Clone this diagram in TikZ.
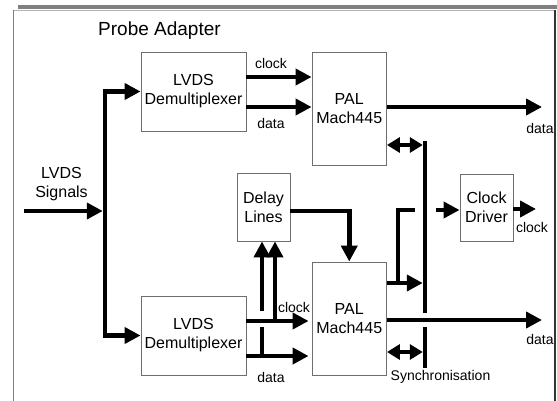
\documentclass[tikz,border=0pt]{standalone}
\usepackage{fontspec}
\setmainfont{Liberation Sans}
\usetikzlibrary{arrows.meta, calc}
\definecolor{frame}{RGB}{128,128,128}
\definecolor{edge}{RGB}{110,110,110}

\begin{document}
\begin{tikzpicture}[
  x=1pt, y=-1pt,
  every node/.style={font=\fontsize{16}{19}\selectfont},
  blockbox/.style={draw=edge, line width=0.9pt, align=center, inner sep=0pt},
  lbl/.style={font=\fontsize{14}{16}\selectfont},
  bus/.style={line width=4.5pt},
  syncarrow/.style={bus, {Triangle[length=13pt,width=15pt]}-{Triangle[length=13pt,width=15pt]}},
  >={Triangle[length=16pt,width=16pt]}
]
\useasboundingbox (0,0) rectangle (557,401);

% frame
\fill[frame] (18,5) rectangle (557,9.5);
\draw[frame!60, line width=0.8pt] (13.5,10) -- (555,10);
\draw[frame, line width=1.5pt] (13.5,10) -- (13.5,401);
\draw[black!80, line width=1.5pt] (555,10) -- (555,401);

\node[font=\fontsize{19}{22}\selectfont] (title) at (159.5,31) {Probe Adapter};
\node[align=center] (signals) at (61.5,184) {LVDS\\Signals};

\node[blockbox, minimum width=105pt, minimum height=79pt] (demuxA) at (193.5,91.5)
  {LVDS\\Demultiplexer};
\node[blockbox, minimum width=74.5pt, minimum height=113pt] (palA) at (349.25,108.5)
  {PAL\\Mach445};
\node[blockbox, minimum width=105pt, minimum height=79pt] (demuxB) at (193.5,335.5)
  {LVDS\\Demultiplexer};
\node[blockbox, minimum width=74.5pt, minimum height=113pt] (palB) at (349.25,318.5)
  {PAL\\Mach445};
\node[blockbox, minimum width=53pt, minimum height=68pt] (delay) at (263.5,207)
  {Delay\\Lines};
\node[blockbox, minimum width=53pt, minimum height=67pt] (clkdrv) at (486.5,207.5)
  {Clock\\Driver};

% input and split
\coordinate (sigin) at (24,211);
\coordinate (split) at (105,211);
\draw[bus, ->, shorten >=2.25pt] (sigin) -- (split);
\draw[bus, ->] (split) |- (demuxA);
\draw[bus, ->] (split) |- (demuxB);

% upper channel
\coordinate (clkA) at ([yshift=14.5pt]demuxA.east);
\coordinate (datA) at ([yshift=-15.5pt]demuxA.east);
\coordinate (outA) at (542,107);
\draw[bus, ->] (clkA) -- (clkA -| palA.west);
\draw[bus, ->] (datA) -- (datA -| palA.west);
\draw[bus, ->] (outA -| palA.east) -- (outA);
\node[lbl] (clkAlbl) at (271,63) {clock};
\node[lbl] (datAlbl) at (271,123) {data};
\node[lbl] (outAlbl) at (540,128) {data};

% lower channel
\coordinate (clkB) at ([yshift=14.5pt]demuxB.east);
\coordinate (datB) at ([yshift=-20.5pt]demuxB.east);
\coordinate (outB) at (542,320);
\draw[bus, ->, shorten >=3pt] (clkB) -- (clkB -| palB.west);
\draw[bus, ->, shorten >=3pt] (datB) -- (datB -| palB.west);
\draw[bus, ->] (outB -| palB.east) -- (outB);
\node[lbl] (clkBlbl) at (294,307) {clock};
\node[lbl] (datBlbl) at (271,377) {data};
\node[lbl] (outBlbl) at (540,339) {data};

% taps to the delay lines
\coordinate (tapD) at (262,356);
\coordinate (hopLo) at (262,327);
\coordinate (hopHi) at (262,311);
\coordinate (tapC) at (275,321);
\draw[bus] (tapD) -- (hopLo);
\draw[bus, ->] (hopHi) -- (hopHi |- delay.south);
\draw[bus, ->] (tapC) -- (tapC |- delay.south);
\draw[bus, ->] ([yshift=-4pt]delay.east) -| (palB);

% synchronisation
\coordinate (syncTop) at (425,145);
\coordinate (syncLow) at (425,352);
\draw[bus] (425,141) -- (425,313);
\draw[bus] (425,327) -- (425,368);
\draw[syncarrow, shorten >=2.25pt] (syncTop -| palA.east) -- (syncTop);
\draw[syncarrow, shorten >=2.25pt] (syncLow -| palB.east) -- (syncLow);
\node[lbl] (synclbl) at (440.5,377) {Synchronisation};

% clock driver
\coordinate (syncClk) at (425,283);
\coordinate (clkTap) at (398,283);
\coordinate (clkHop) at (415,210);
\coordinate (clkIn) at (436,210);
\coordinate (clkOut) at (536,209);
\draw[bus, ->, shorten >=2.25pt] (syncClk -| palB.east) -- (syncClk);
\draw[bus] (clkTap) |- (clkHop);
\draw[bus, ->] (clkIn) -- (clkIn -| clkdrv.west);
\draw[bus, ->] (clkOut -| clkdrv.east) -- (clkOut);
\node[lbl] (clkOutlbl) at (532,227) {clock};

\end{tikzpicture}
\end{document}
